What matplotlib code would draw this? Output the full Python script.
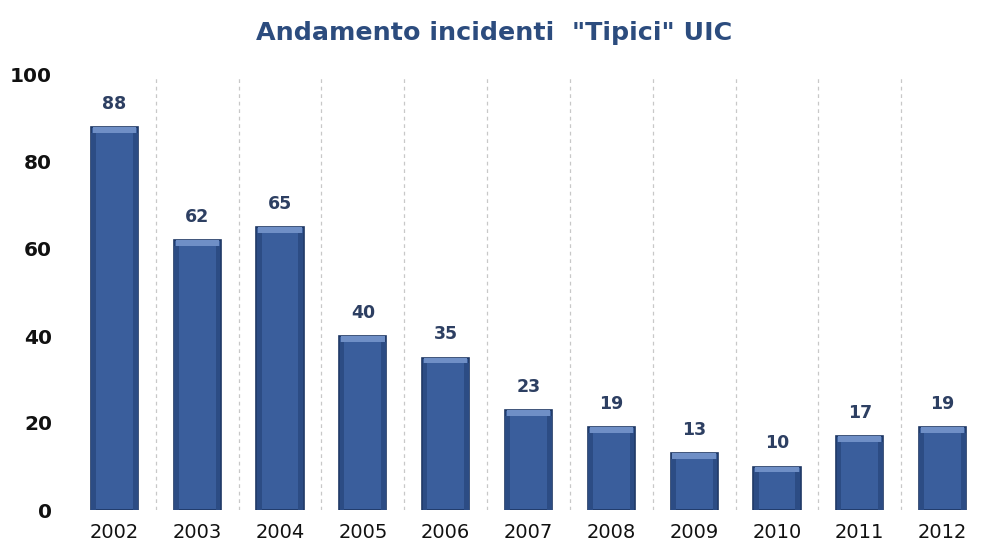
import matplotlib
matplotlib.use("Agg")
import matplotlib.pyplot as plt
import numpy as np

years = ["2002", "2003", "2004", "2005", "2006", "2007", "2008", "2009", "2010", "2011", "2012"]
values = [88, 62, 65, 40, 35, 23, 19, 13, 10, 17, 19]
yticks = [0, 20, 40, 60, 80, 100]
title = 'Andamento incidenti  "Tipici" UIC'

fig = plt.figure(figsize=(9.84, 5.47), dpi=100)
ax = fig.add_axes([73/984, 1 - 510/547, (984 - 73)/984, (510 - 75)/547])

x = np.arange(len(years))
vals = np.array(values, dtype=float)
w = 0.57
ax.bar(x, vals, width=w, color="#3a5e9c", edgecolor="#1e3764", linewidth=1.2, zorder=3)
# bevel highlight at top
hl = 1.3
ax.bar(x, np.full_like(vals, hl), bottom=vals - hl, width=w * 0.92, color="#6f8fc6", linewidth=0, zorder=4)
# darker sides
ax.bar(x - w / 2 + w * 0.06, vals - hl, width=w * 0.1, color="#2c4c84", linewidth=0, zorder=4)
ax.bar(x + w / 2 - w * 0.06, vals - hl, width=w * 0.1, color="#2c4c84", linewidth=0, zorder=4)

for xi, v in zip(x, values):
    ax.text(xi, v + 3.3, str(v), ha="center", va="bottom", fontsize=12.5,
            fontweight="bold", color="#2d3f62", zorder=5)

ax.set_xlim(-0.5, len(years) - 0.5)
ax.set_ylim(0, 100)
ax.set_yticks(yticks)
ax.set_yticklabels([str(t) for t in yticks], fontsize=14.5, fontweight="bold", color="#111111")
ax.set_xticks(x)
ax.set_xticklabels(years, fontsize=14, color="#111111")
ax.set_xticks(np.arange(len(years) - 1) + 0.5, minor=True)
ax.grid(False)
ax.xaxis.grid(True, which="minor", linestyle=(0, (3, 3)), color="#c8c8c8", linewidth=0.9, zorder=0)
ax.tick_params(axis="both", which="both", length=0)
ax.tick_params(axis="y", pad=15)
ax.tick_params(axis="x", pad=9)
for s in ax.spines.values():
    s.set_visible(False)

fig.text(494/984, 1 - 33/547, title, ha="center", va="center", fontsize=18.3,
         fontweight="bold", color="#2c4c7e")

fig.savefig("out.png", dpi=100, facecolor="white")
